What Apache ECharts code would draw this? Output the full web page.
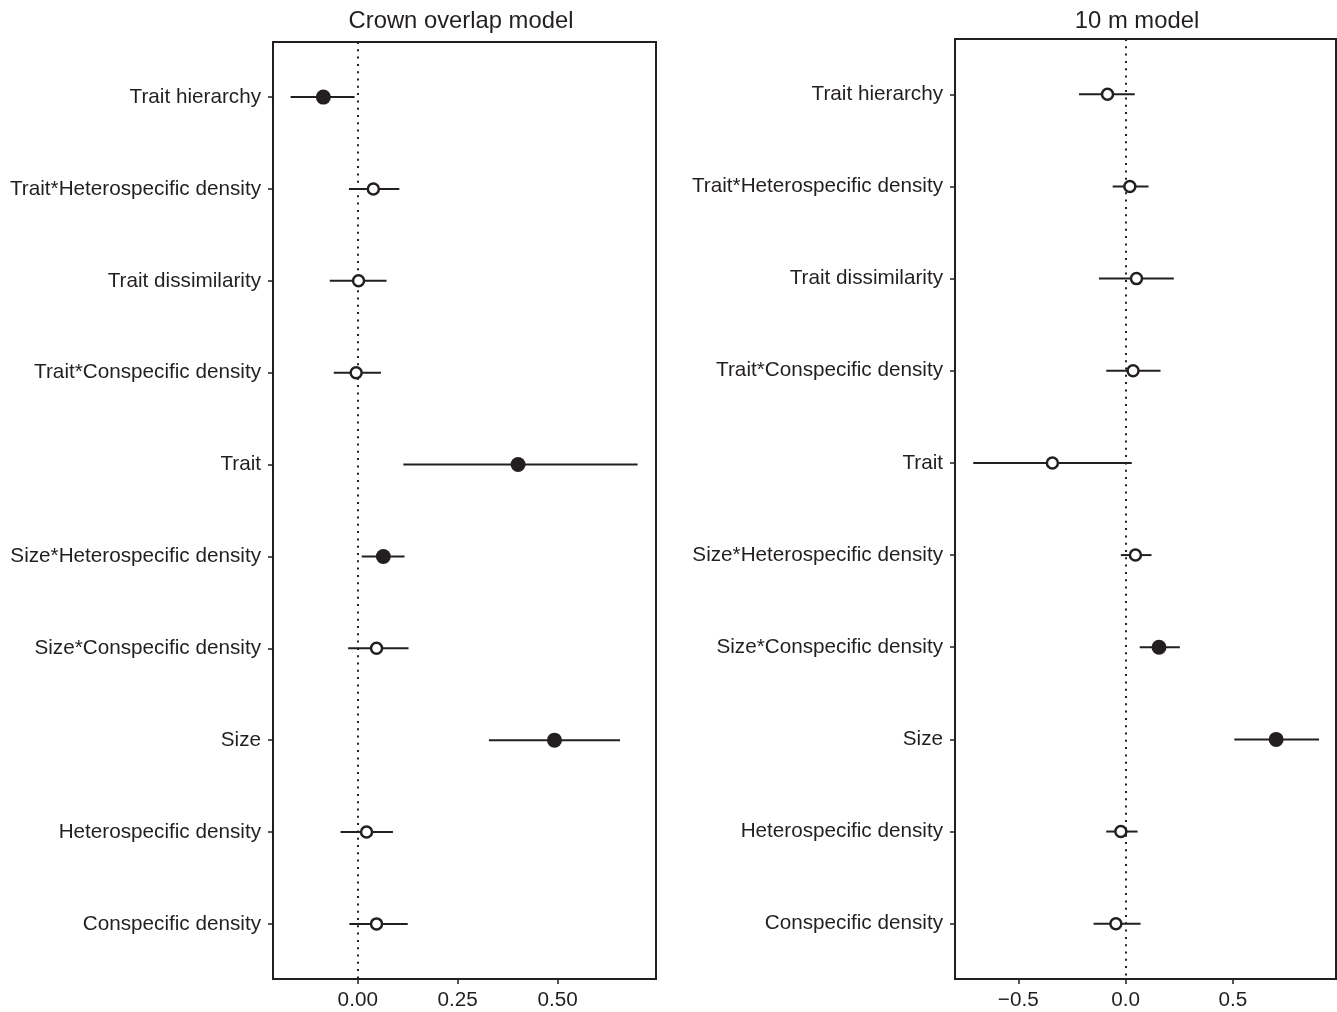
<!DOCTYPE html>
<html>
<head>
<meta charset="utf-8">
<script src="https://cdn.jsdelivr.net/npm/echarts@6/dist/echarts.min.js"></script>
<style>
html,body{margin:0;padding:0;background:#fff;}
#chart{width:1337px;height:1012px;}
</style>
</head>
<body>
<div id="chart"></div>
<script>
// ---- data ----
var terms = ["Trait hierarchy","Trait*Heterospecific density","Trait dissimilarity","Trait*Conspecific density","Trait","Size*Heterospecific density","Size*Conspecific density","Size","Heterospecific density","Conspecific density"];

var crownTitle = "Crown overlap model";
var crownEst = [-0.086, 0.039, 0.002, -0.004, 0.401, 0.064, 0.047, 0.492, 0.022, 0.047];
var crownLo  = [-0.168, -0.022, -0.070, -0.060, 0.114, 0.010, -0.024, 0.328, -0.043, -0.021];
var crownHi  = [-0.008, 0.104, 0.072, 0.058, 0.700, 0.117, 0.127, 0.656, 0.088, 0.125];
var crownSig = [1, 0, 0, 0, 1, 1, 0, 1, 0, 0];
var crownTicks = [0, 0.25, 0.5];
var crownTickLabels = ["0.00", "0.25", "0.50"];

var tenTitle = "10 m model";
var tenEst = [-0.084, 0.020, 0.051, 0.035, -0.341, 0.046, 0.156, 0.702, -0.022, -0.045];
var tenLo  = [-0.217, -0.060, -0.124, -0.090, -0.710, -0.022, 0.066, 0.507, -0.090, -0.149];
var tenHi  = [0.043, 0.107, 0.225, 0.163, 0.029, 0.121, 0.253, 0.902, 0.056, 0.070];
var tenSig = [0, 0, 0, 0, 0, 0, 1, 1, 0, 0];
var tenTicks = [-0.5, 0, 0.5];
var tenTickLabels = ["\u22120.5", "0.0", "0.5"];

// ---- chart ----
var INK = '#231f20';
var FONT = '"Liberation Sans", Arial, Helvetica, sans-serif';
var pos = [1,2,3,4,5,6,7,8,9,10];

function yAxisFor(gi) {
  return {
    type: 'value', gridIndex: gi, inverse: true, min: 0.4, max: 10.6,
    axisLine: {show: true, onZero: false, lineStyle: {color: INK, width: 2}},
    axisTick: {show: true, length: 5, lineStyle: {color: INK, width: 1.5}, customValues: pos},
    axisLabel: {show: true, customValues: pos, margin: 12, color: INK, fontSize: 20.7, fontFamily: FONT,
      padding: [3, 0, 0, 0],
      formatter: function (v) { return terms[Math.round(v) - 1] || ''; }},
    splitLine: {show: false}
  };
}
function xAxisFor(gi, mn, mx, ticks, labels) {
  return {
    type: 'value', gridIndex: gi, min: mn, max: mx,
    axisLine: {show: true, onZero: false, lineStyle: {color: INK, width: 2}},
    axisTick: {show: true, length: 5, lineStyle: {color: INK, width: 1.5}, customValues: ticks},
    axisLabel: {show: true, customValues: ticks, margin: 11, color: INK, fontSize: 20.7, fontFamily: FONT,
      formatter: function (v) {
        for (var i = 0; i < ticks.length; i++) if (Math.abs(ticks[i] - v) < 1e-9) return labels[i];
        return '';
      }},
    splitLine: {show: false}
  };
}
function seriesFor(gi, est, lo, hi, sig) {
  var bars = est.map(function (e, i) { return [lo[i], hi[i], i + 1]; });
  var filled = [], open = [];
  est.forEach(function (e, i) { (sig[i] ? filled : open).push([e, i + 1]); });
  return [
    {
      type: 'custom', xAxisIndex: gi, yAxisIndex: gi, data: bars, z: 3,
      renderItem: function (params, api) {
        var a = api.coord([api.value(0), api.value(2)]);
        var b = api.coord([api.value(1), api.value(2)]);
        return {type: 'line', shape: {x1: a[0], y1: a[1], x2: b[0], y2: b[1]},
          style: {stroke: INK, lineWidth: 2}};
      },
      encode: {x: [0, 1], y: 2},
      silent: true,
      markLine: {silent: true, symbol: ['none', 'none'], label: {show: false}, z: 1,
        lineStyle: {color: INK, width: 2, type: [2, 5.3], cap: 'butt'},
        data: [{xAxis: 0}]}
    },
    {
      type: 'scatter', xAxisIndex: gi, yAxisIndex: gi, data: filled, symbol: 'circle', symbolSize: 15, z: 4,
      itemStyle: {color: INK, opacity: 1}, silent: true
    },
    {
      type: 'scatter', xAxisIndex: gi, yAxisIndex: gi, data: open, symbol: 'circle', symbolSize: 11, z: 4,
      itemStyle: {color: '#fff', borderColor: INK, borderWidth: 2.5, opacity: 1}, silent: true
    }
  ];
}

var chart = echarts.init(document.getElementById('chart'), null, {renderer: 'canvas'});
chart.setOption({
  animation: false,
  backgroundColor: '#fff',
  title: [
    {text: crownTitle, left: 456, top: 4, textAlign: 'center',
      textStyle: {color: INK, fontSize: 23.8, fontWeight: 'normal', fontFamily: FONT}},
    {text: tenTitle, left: 1132, top: 4, textAlign: 'center',
      textStyle: {color: INK, fontSize: 23.8, fontWeight: 'normal', fontFamily: FONT}}
  ],
  grid: [
    {left: 273, top: 42, width: 383, height: 937, show: true, borderColor: INK, borderWidth: 2, backgroundColor: 'transparent', containLabel: false},
    {left: 955, top: 39, width: 381, height: 940, show: true, borderColor: INK, borderWidth: 2, backgroundColor: 'transparent', containLabel: false}
  ],
  xAxis: [
    xAxisFor(0, -0.212, 0.746, crownTicks, crownTickLabels),
    xAxisFor(1, -0.795, 0.981, tenTicks, tenTickLabels)
  ],
  yAxis: [yAxisFor(0), yAxisFor(1)],
  series: [].concat(
    seriesFor(0, crownEst, crownLo, crownHi, crownSig),
    seriesFor(1, tenEst, tenLo, tenHi, tenSig)
  )
});
</script>
</body>
</html>
